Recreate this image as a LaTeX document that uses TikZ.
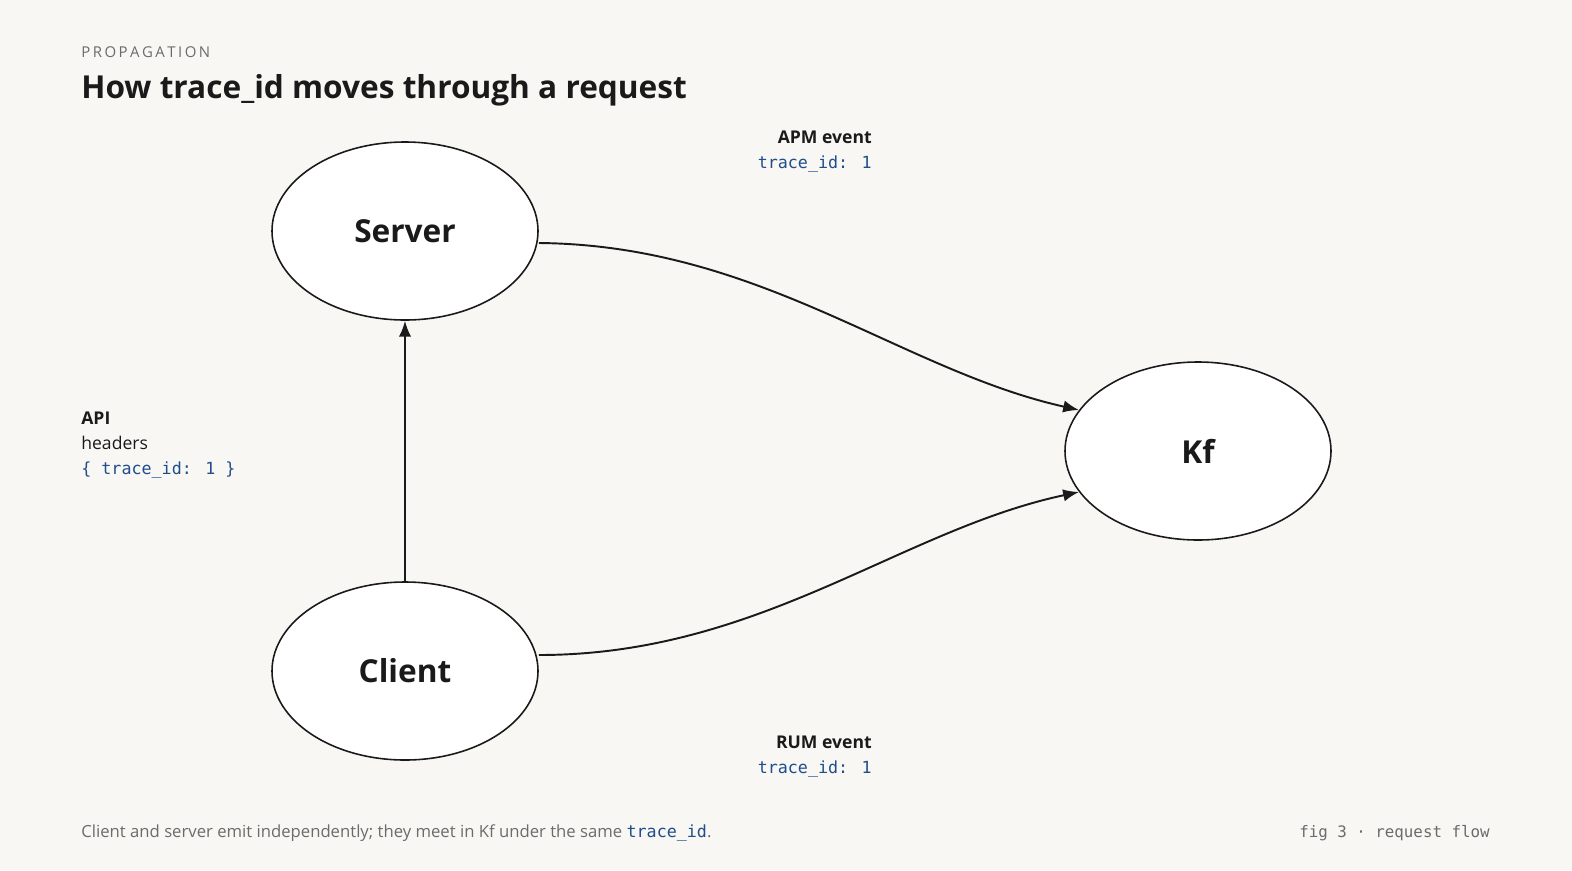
\documentclass[tikz,border=0pt]{standalone}
\usepackage{fontspec}
\setmainfont{Open Sans}
\newfontfamily\codefont{DejaVu Sans Mono}
\usetikzlibrary{shapes.geometric,arrows.meta}
\definecolor{bgpaper}{HTML}{F8F7F3}
\definecolor{inkdark}{HTML}{1A1A1A}
\definecolor{inkgray}{HTML}{6B6B6B}
\definecolor{codeblue}{HTML}{1F4E8C}
\tikzset{
  svc/.style = {ellipse, draw=inkdark, line width=0.9pt, fill=white,
    minimum width=266\px, minimum height=178\px, inner sep=0pt,
    font=\fontsize{18}{22}\selectfont\bfseries, text=inkdark},
  flow/.style = {-{Latex[length=9pt,width=7pt]}, line width=1.1pt, draw=inkdark},
  lbl/.style = {font=\fontsize{10}{14}\selectfont, text=inkdark, inner sep=0pt},
  code/.style = {font=\codefont\fontsize{9.5}{14}\selectfont, text=codeblue, inner sep=0pt},
}
\newlength{\px}
\setlength{\px}{0.02cm}
\begin{document}
\begin{tikzpicture}[x=0.02cm, y=-0.02cm]
  \fill[bgpaper] (0,0) rectangle (1572,870);
  \useasboundingbox (0,0) rectangle (1572,870);
  % heading
  \node[anchor=base west, inner sep=0pt, text=inkgray,
    font=\fontsize{8.5}{11}\selectfont] (kicker) at (81,57) {P\,R\,O\,P\,A\,G\,A\,T\,I\,O\,N};
  \node[anchor=base west, inner sep=0pt, text=inkdark,
    font=\fontsize{18}{22}\selectfont\bfseries] (title) at (81,98) {How trace\_id moves through a request};
  % services
  \node[svc] (server) at (405,231) {Server};
  \node[svc] (client) at (405,671) {Client};
  \node[svc] (kf) at (1198,451) {Kf};
  % flows
  \draw[flow] (client.north) -- (server.south);
  \draw[flow] (server.east) ++(0,12) coordinate (s0)
    (s0) .. controls (760,245) and (900,370) .. (kf.161);
  \draw[flow] (client.east) ++(0,-16) coordinate (c0)
    (c0) .. controls (760,655) and (900,530) .. (kf.199);
  % annotations
  \node[lbl, anchor=base east, font=\fontsize{10}{14}\selectfont\bfseries] (apm) at (872,143) {APM event};
  \node[code, anchor=base east] (apmid) at (872,168) {trace\_id: 1};
  \node[lbl, anchor=base east, font=\fontsize{10}{14}\selectfont\bfseries] (rum) at (872,748) {RUM event};
  \node[code, anchor=base east] (rumid) at (872,773) {trace\_id: 1};
  \node[lbl, anchor=base west, font=\fontsize{10}{14}\selectfont\bfseries] (api) at (81,424) {API};
  \node[lbl, anchor=base west] (hdr) at (81,449) {headers};
  \node[code, anchor=base west] (hdrid) at (81,474) {\{ trace\_id: 1 \}};
  % footer
  \node[anchor=base west, inner sep=0pt, text=inkgray,
    font=\fontsize{9.5}{12}\selectfont] (note) at (81,837)
    {Client and server emit independently; they meet in Kf under the same {\codefont\color{codeblue}trace\_id}.};
  \node[anchor=base east, inner sep=0pt, text=inkgray,
    font=\codefont\fontsize{9}{12}\selectfont] (fig) at (1490,837) {fig 3 · request flow};
\end{tikzpicture}
\end{document}
